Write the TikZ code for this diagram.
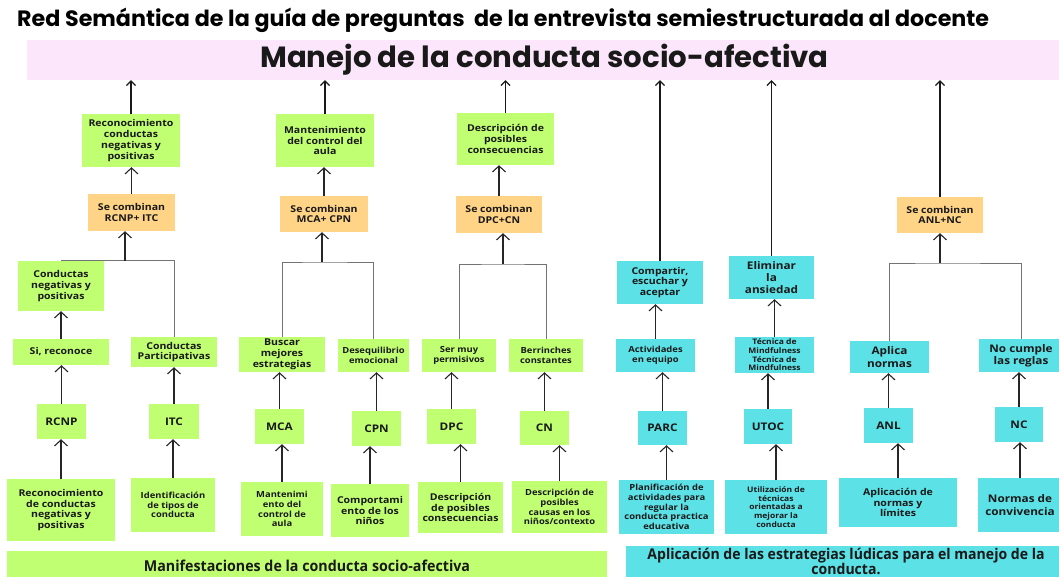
\documentclass[tikz,border=0pt]{standalone}
\usepackage{fontspec}
\setmainfont{Open Sans}
\newfontfamily\boxfont{Open Sans}[FakeStretch=1.12]
\newfontfamily\barfont{Open Sans}[FakeStretch=0.95]
\newfontfamily\titlefont{Poppins}
\usetikzlibrary{arrows.meta}
\definecolor{limegreen}{HTML}{C1FF72}
\definecolor{sandorange}{HTML}{FFD486}
\definecolor{aquacyan}{HTML}{5CE1E6}
\definecolor{palepink}{HTML}{FCE6FC}
\begin{document}
\begin{tikzpicture}[x=1pt,y=-1pt,
    box_style/.style={inner sep=0pt,align=center,text=black!90},
    green_box/.style={box_style,fill=limegreen},
    orange_box/.style={box_style,fill=sandorange},
    cyan_box/.style={box_style,fill=aquacyan},
    txt_l/.style={font=\boxfont\bfseries\fontsize{10.5}{12.3}\selectfont},
    txt_m/.style={font=\boxfont\bfseries\fontsize{9.4}{10.8}\selectfont},
    txt_s/.style={font=\boxfont\bfseries\fontsize{8.4}{9.8}\selectfont},
    txt_xs/.style={font=\boxfont\bfseries\fontsize{7.6}{8.6}\selectfont},
    arrow_style/.style={draw=black!85,line width=1.1pt,-{Straight Barb[length=6pt,width=13pt,line width=1.1pt]}},
    top_arrow_style/.style={draw=black!90,line width=1.6pt,-{Straight Barb[length=4.5pt,width=9pt,line width=1.2pt]}},
    branch_style/.style={draw=black!55,line width=1pt}]
\useasboundingbox (0,0) rectangle (1059,577);

% titles
\node[anchor=west,inner sep=0pt,font=\titlefont\bfseries\fontsize{22.2}{26}\selectfont] (title) at (17,20)
    {Red Semántica de la guía de preguntas\ \ de la entrevista semiestructurada al docente};
\node[box_style,fill=palepink,minimum width=1035,minimum height=40,font=\titlefont\bfseries\fontsize{29.2}{32}\selectfont] (banner) at (544.5,60)
    {Manejo de la conducta socio-afectiva};

% column 1
\node[green_box,txt_m,minimum width=98,minimum height=53] (rcnp_top) at (131,140.5) {Reconocimiento\\conductas\\negativas y\\positivas};
\node[orange_box,txt_m,minimum width=87,minimum height=37] (comb_rcnp) at (131.5,212.5) {Se combinan\\RCNP+ ITC};
\coordinate (j1) at (125,261);
\node[green_box,txt_m,minimum width=86,minimum height=50] (cneg) at (61,286) {Conductas\\negativas y\\positivas};
\node[green_box,txt_m,minimum width=96,minimum height=26] (sireco) at (61,352) {Si, reconoce};
\node[green_box,txt_m,minimum width=86,minimum height=30] (cpart) at (174,352) {Conductas\\Participativas};
\node[green_box,txt_l,minimum width=49,minimum height=35] (rcnp) at (61.5,421.5) {RCNP};
\node[green_box,txt_l,minimum width=50,minimum height=35] (itc) at (174,421.5) {ITC};
\node[green_box,txt_m,minimum width=108,minimum height=62] (rcnp_desc) at (61,510) {Reconocimiento\\de conductas\\negativas y\\positivas};
\node[green_box,txt_s,minimum width=84,minimum height=54] (itc_desc) at (173,505) {Identificación\\de tipos de\\conducta};

% column 2
\node[green_box,txt_m,minimum width=98,minimum height=53] (mca_top) at (325,140.5) {Mantenimiento\\del control del\\aula};
\node[orange_box,txt_m,minimum width=88,minimum height=36] (comb_mca) at (324,214) {Se combinan\\MCA+ CPN};
\coordinate (j2) at (322,262);
\node[green_box,txt_m,minimum width=86,minimum height=35] (buscar) at (282,354.5) {Buscar\\mejores\\estrategias};
\node[green_box,txt_s,minimum width=71,minimum height=33] (deseq) at (373.5,355.5) {Desequilibrio\\emocional};
\node[green_box,txt_l,minimum width=49,minimum height=35] (mca) at (279.5,426.5) {MCA};
\node[green_box,txt_l,minimum width=49,minimum height=35] (cpn) at (376.5,428.5) {CPN};
\node[green_box,txt_s,minimum width=82,minimum height=54] (mca_desc) at (282,509) {Mantenimi\\ento del\\control de\\aula};
\node[green_box,txt_m,minimum width=78,minimum height=53] (cpn_desc) at (370,510.5) {Comportami\\ento de los\\niños};

% column 3
\node[green_box,txt_m,minimum width=97,minimum height=52] (dpc_top) at (505.5,139) {Descripción de\\posibles\\consecuencias};
\node[orange_box,txt_m,minimum width=86,minimum height=37] (comb_dpc) at (499,214.5) {Se combinan\\DPC+CN};
\coordinate (j3) at (503,264);
\node[green_box,txt_s,minimum width=74,minimum height=33] (ser) at (459,355.5) {Ser muy\\permisivos};
\node[green_box,txt_s,minimum width=74,minimum height=33] (berr) at (546,355.5) {Berrinches\\constantes};
\node[green_box,txt_l,minimum width=49,minimum height=35] (dpc) at (451.5,426.5) {DPC};
\node[green_box,txt_l,minimum width=49,minimum height=34] (cn) at (544.5,428) {CN};
\node[green_box,txt_m,minimum width=85,minimum height=51] (dpc_desc) at (460.5,507.5) {Descripción\\de posibles\\consecuencias};
\node[green_box,txt_s,minimum width=95,minimum height=52] (cn_desc) at (559.5,507) {Descripción de\\posibles\\causas en los\\niños/contexto};

% column 4
\node[cyan_box,txt_m,minimum width=86,minimum height=43] (compartir) at (660,282.5) {Compartir,\\escuchar y\\aceptar};
\node[cyan_box,txt_s,minimum width=79,minimum height=33] (activ) at (655.5,355.5) {Actividades\\en equipo};
\node[cyan_box,txt_l,minimum width=49,minimum height=34] (parc) at (662.5,428) {PARC};
\node[cyan_box,txt_s,minimum width=95,minimum height=54] (parc_desc) at (666.5,507) {Planificación de\\actividades para\\regular la\\conducta practica\\educativa};

% column 5
\node[cyan_box,txt_l,minimum width=85,minimum height=43] (eliminar) at (771.5,277.5) {Eliminar\\la\\ansiedad};
\node[cyan_box,txt_xs,minimum width=79,minimum height=36] (mindful) at (774.5,355) {Técnica de\\Mindfulness\\Técnica de\\Mindfulness};
\node[cyan_box,txt_l,minimum width=48,minimum height=35] (utoc) at (768,426.5) {UTOC};
\node[cyan_box,txt_xs,minimum width=102,minimum height=54] (utoc_desc) at (776,507) {Utilización de\\técnicas\\orientadas a\\mejorar la\\conducta};

% column 6
\node[orange_box,txt_m,minimum width=86,minimum height=36] (comb_anl) at (940,215) {Se combinan\\ANL+NC};
\coordinate (j6) at (940,263);
\node[cyan_box,txt_l,minimum width=79,minimum height=32] (aplica) at (889.5,357) {Aplica\\normas};
\node[cyan_box,txt_l,minimum width=84,minimum height=33] (nocumple) at (1021,355.5) {No cumple\\las reglas};
\node[cyan_box,txt_l,minimum width=49,minimum height=35] (anl) at (888.5,425.5) {ANL};
\node[cyan_box,txt_l,minimum width=48,minimum height=35] (nc) at (1019,424.5) {NC};
\node[cyan_box,txt_m,minimum width=118,minimum height=49] (anl_desc) at (898,502.5) {Aplicación de\\normas y\\límites};
\node[cyan_box,txt_l,minimum width=84,minimum height=54] (nc_desc) at (1020,505) {Normas de\\convivencia};

% bottom bars
\node[green_box,minimum width=600,minimum height=30,font=\barfont\bfseries\fontsize{15}{16}\selectfont] (manif) at (307,566) {Manifestaciones de la conducta socio-afectiva};
\node[cyan_box,minimum width=440,minimum height=31,font=\barfont\bfseries\fontsize{14.8}{13.5}\selectfont] (aplic) at (846,561.5) {Aplicación de las estrategias lúdicas para el manejo de la\\conducta.};

% connectors
\draw[top_arrow_style] (rcnp_top.north) -- (rcnp_top.north |- banner.south);
\draw[top_arrow_style] (mca_top.north) -- (mca_top.north |- banner.south);
\draw[top_arrow_style] (dpc_top.north) -- (dpc_top.north |- banner.south);
\draw[top_arrow_style] (compartir.north) -- (compartir.north |- banner.south);
\draw[top_arrow_style] (eliminar.north) -- (eliminar.north |- banner.south);
\draw[top_arrow_style] (comb_anl.north) -- (comb_anl.north |- banner.south);

\draw[arrow_style] (comb_rcnp.north) -- (comb_rcnp.north |- rcnp_top.south);
\draw[arrow_style] (comb_mca.north) -- (comb_mca.north |- mca_top.south);
\draw[arrow_style] (comb_dpc.north) -- (comb_dpc.north |- dpc_top.south);

\draw[branch_style] (cneg.north) -| (cpart.north);
\draw[branch_style] (buscar.north) |- (j2) -| (deseq.north);
\draw[branch_style] (ser.north) |- (j3) -| (berr.north);
\draw[branch_style] (aplica.north) |- (j6) -| (nocumple.north);
\draw[arrow_style] (j1) -- (j1 |- comb_rcnp.south);
\draw[arrow_style] (j2) -- (j2 |- comb_mca.south);
\draw[arrow_style] (j3) -- (j3 |- comb_dpc.south);
\draw[arrow_style] (j6) -- (j6 |- comb_anl.south);

\draw[arrow_style] (sireco.north) -- (sireco.north |- cneg.south);
\draw[arrow_style] (activ.north) -- (activ.north |- compartir.south);
\draw[arrow_style] (mindful.north) -- (mindful.north |- eliminar.south);

\draw[arrow_style] (rcnp.north) -- (rcnp.north |- sireco.south);
\draw[arrow_style] (itc.north) -- (itc.north |- cpart.south);
\draw[arrow_style] (mca.north) -- (mca.north |- buscar.south);
\draw[arrow_style] (cpn.north) -- (cpn.north |- deseq.south);
\draw[arrow_style] (dpc.north) -- (dpc.north |- ser.south);
\draw[arrow_style] (cn.north) -- (cn.north |- berr.south);
\draw[arrow_style] (parc.north) -- (parc.north |- activ.south);
\draw[arrow_style] (utoc.north) -- (utoc.north |- mindful.south);
\draw[arrow_style] (anl.north) -- (anl.north |- aplica.south);
\draw[arrow_style] (nc.north) -- (nc.north |- nocumple.south);

\draw[arrow_style] (rcnp_desc.north) -- (rcnp_desc.north |- rcnp.south);
\draw[arrow_style] (itc_desc.north) -- (itc_desc.north |- itc.south);
\draw[arrow_style] (mca_desc.north) -- (mca_desc.north |- mca.south);
\draw[arrow_style] (cpn_desc.north) -- (cpn_desc.north |- cpn.south);
\draw[arrow_style] (dpc_desc.north) -- (dpc_desc.north |- dpc.south);
\draw[arrow_style] (cn_desc.north) -- (cn_desc.north |- cn.south);
\draw[arrow_style] (parc_desc.north) -- (parc_desc.north |- parc.south);
\draw[arrow_style] (utoc_desc.north) -- (utoc_desc.north |- utoc.south);
\draw[arrow_style] (anl_desc.north) -- (anl_desc.north |- anl.south);
\draw[arrow_style] (nc_desc.north) -- (nc_desc.north |- nc.south);
\end{tikzpicture}
\end{document}
